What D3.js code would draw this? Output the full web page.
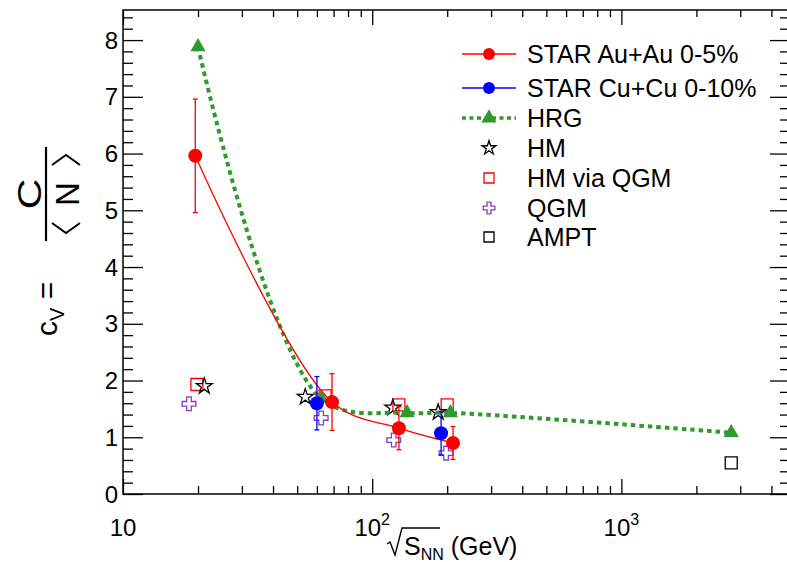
<!DOCTYPE html>
<html>
<head>
<meta charset="utf-8">
<script src="https://cdn.jsdelivr.net/npm/d3@7"></script>
<style>
  body { margin: 0; background: #fff; }
  svg { display: block; }
  text { font-family: "Liberation Sans", Arial, Helvetica, sans-serif; fill: #000; }
</style>
</head>
<body>
<svg id="chart" width="787" height="562"></svg>
<script>
// values
const auEnergy = [19.5, 69, 128, 211];
const auCv = [5.96, 1.62, 1.16, 0.90];
const auErr = [1.0, 0.5, 0.38, 0.29];

const cuEnergy = [60, 189];
const cuCv = [1.60, 1.07];
const cuErr = [0.47, 0.38];

const hrgEnergy = [20, 62.4, 138, 206, 2760];
const hrgCv = [7.88, 1.68, 1.43, 1.43, 1.08];

const hmEnergy = [21.2, 53.9, 121, 184];
const hmCv = [1.90, 1.71, 1.52, 1.44];

const hmQgmEnergy = [19.8, 64.7, 128, 200];
const hmQgmCv = [1.93, 1.73, 1.57, 1.57];

const qgmEnergy = [18.4, 62.4, 122, 198];
const qgmCv = [1.59, 1.34, 0.95, 0.72];

const amptEnergy = [2760];
const amptCv = [0.55];

const xMajor = [10, 100, 1000];
const xMinor = [20, 30, 40, 50, 60, 70, 80, 90, 200, 300, 400, 500, 600, 700, 800, 900, 2000, 3000, 4000];
const yMajor = [0, 1, 2, 3, 4, 5, 6, 7, 8];
const yMinor = d3.range(0, 8.5, 0.2).filter(v => Math.abs(v - Math.round(v)) > 1e-6);

const legendLabels = ["STAR Au+Au 0-5%", "STAR Cu+Cu 0-10%", "HRG", "HM", "HM via QGM", "QGM", "AMPT"];

const RED = "#ff0000", BLUE = "#0000ff", GREEN = "#2f9a2f", PURPLE = "#8040c0";

const margin = { top: 10, right: -3, bottom: 68, left: 123 };
const W = 787, H = 562;

const svg = d3.select("#chart");

const x = d3.scaleLog().domain([10, 4750]).range([margin.left, W - margin.right]);
const y = d3.scaleLinear().domain([0, 8.53]).range([H - margin.bottom, margin.top]);

const x0 = x.range()[0], x1 = x.range()[1], y0 = y.range()[0], y1 = y.range()[1];

// ticks on all four sides, pointing inwards
function ticks(axis, vals, len, transform) {
    svg.append("g")
        .attr("transform", transform)
        .call(axis.tickValues(vals).tickSizeInner(len).tickSizeOuter(0).tickFormat(""))
        .call(g => g.select(".domain").remove())
        .call(g => g.selectAll("line").attr("stroke", "#000").attr("stroke-width", 1.3));
}
ticks(d3.axisBottom(x), xMajor, -15, `translate(0,${y0})`);
ticks(d3.axisBottom(x), xMinor, -8, `translate(0,${y0})`);
ticks(d3.axisTop(x), xMajor, -15, `translate(0,${y1})`);
ticks(d3.axisTop(x), xMinor, -7, `translate(0,${y1})`);
ticks(d3.axisLeft(y), yMajor, -20, `translate(${x0},0)`);
ticks(d3.axisLeft(y), yMinor, -10, `translate(${x0},0)`);
ticks(d3.axisRight(y), yMajor, -20, `translate(${x1},0)`);
ticks(d3.axisRight(y), yMinor, -10, `translate(${x1},0)`);

svg.append("rect")
    .attr("x", x0).attr("y", y1)
    .attr("width", x1 - x0).attr("height", y0 - y1)
    .attr("fill", "none").attr("stroke", "#000").attr("stroke-width", 1.5);

// tick labels
svg.append("g").selectAll("text")
    .data(yMajor)
    .join("text")
    .attr("x", x0 - 5)
    .attr("y", d => y(d) + 8.5)
    .attr("text-anchor", "end")
    .attr("font-size", 24)
    .text(d => d);

const xl = svg.append("g").selectAll("text")
    .data(xMajor)
    .join("text")
    .attr("x", d => x(d))
    .attr("y", 536)
    .attr("text-anchor", "middle")
    .attr("font-size", 24);
xl.append("tspan").text("10");
xl.filter(d => d > 10).append("tspan")
    .attr("dy", -11).attr("font-size", 16)
    .text(d => Math.round(Math.log10(d)));

// x title: sqrt(S_NN) (GeV)
const xt = svg.append("g").attr("transform", "translate(394,555)");
xt.append("path")
    .attr("d", "M-7,-11 L-4,-13 L1,0 L8,-27 L46,-27")
    .attr("fill", "none").attr("stroke", "#000").attr("stroke-width", 1.4);
const xtt = xt.append("text").attr("x", 10).attr("y", 0).attr("font-size", 25);
xtt.append("tspan").text("S");
xtt.append("tspan").attr("dy", 5).attr("font-size", 16).text("NN");
xtt.append("tspan").attr("dy", -5).attr("font-size", 25).text(" (GeV)");

// y title: c_V = C / <N>
const yt = svg.append("g").attr("transform", "translate(57,336) rotate(-90)");
const ytt = yt.append("text").attr("x", 0).attr("y", 0).attr("font-size", 30);
ytt.append("tspan").text("c");
ytt.append("tspan").attr("dy", 7).attr("font-size", 20).text("V");
ytt.append("tspan").attr("dy", -7).attr("font-size", 30).text(" =");
const fc = 142;
yt.append("line")
    .attr("x1", fc - 47).attr("x2", fc + 47)
    .attr("y1", -11).attr("y2", -11)
    .attr("stroke", "#000").attr("stroke-width", 2.2);
yt.append("text").attr("x", fc).attr("y", -16)
    .attr("text-anchor", "middle").attr("font-size", 34)
    .attr("textLength", 31).attr("lengthAdjust", "spacingAndGlyphs")
    .text("C");
yt.append("text").attr("x", fc).attr("y", 22)
    .attr("text-anchor", "middle").attr("font-size", 33).text("N");
yt.append("path")
    .attr("d", `M${fc - 29},-5 L${fc - 39},9 L${fc - 29},23 M${fc + 29},-5 L${fc + 39},9 L${fc + 29},23`)
    .attr("fill", "none").attr("stroke", "#000").attr("stroke-width", 2);

// markers
const sym = {
    star: d3.symbol(d3.symbolStar, 78),
    square: d3.symbol(d3.symbolSquare, 144),
    cross: d3.symbol(d3.symbolCross, 105),
    triangle: d3.symbol(d3.symbolTriangle, 100)
};

function openMarkers(xs, vs, shape, color) {
    svg.append("g").selectAll("path")
        .data(xs.map((e, i) => [e, vs[i]]))
        .join("path")
        .attr("d", sym[shape])
        .attr("transform", d => `translate(${x(d[0])},${y(d[1])})`)
        .attr("fill", "none")
        .attr("stroke", color)
        .attr("stroke-width", 1.3);
}

function errorBars(xs, vs, es, color) {
    const g = svg.append("g").attr("stroke", color).attr("stroke-width", 1.3);
    xs.forEach((e, i) => {
        const cx = x(e), ya = y(vs[i] + es[i]), yb = y(vs[i] - es[i]);
        g.append("line").attr("x1", cx).attr("x2", cx).attr("y1", ya).attr("y2", yb);
        g.append("line").attr("x1", cx - 2.5).attr("x2", cx + 2.5).attr("y1", ya).attr("y2", ya);
        g.append("line").attr("x1", cx - 2.5).attr("x2", cx + 2.5).attr("y1", yb).attr("y2", yb);
    });
}

const line = d3.line().x(d => x(d[0])).y(d => y(d[1])).curve(d3.curveCatmullRom.alpha(0.5));

openMarkers(hmQgmEnergy, hmQgmCv, "square", RED);
openMarkers(qgmEnergy, qgmCv, "cross", PURPLE);
openMarkers(hmEnergy, hmCv, "star", "#000");
openMarkers(amptEnergy, amptCv, "square", "#000");

// HRG
svg.append("path")
    .datum(hrgEnergy.map((e, i) => [e, hrgCv[i]]))
    .attr("d", line)
    .attr("fill", "none")
    .attr("stroke", GREEN)
    .attr("stroke-width", 4)
    .attr("stroke-dasharray", "4.5,4");
svg.append("g").selectAll("path")
    .data(hrgEnergy.map((e, i) => [e, hrgCv[i]]))
    .join("path")
    .attr("d", sym.triangle)
    .attr("transform", d => `translate(${x(d[0])},${y(d[1])})`)
    .attr("fill", GREEN);

// STAR Au+Au
svg.append("path")
    .datum(auEnergy.map((e, i) => [e, auCv[i]]))
    .attr("d", line)
    .attr("fill", "none")
    .attr("stroke", RED)
    .attr("stroke-width", 1.3);
errorBars(auEnergy, auCv, auErr, RED);
svg.append("g").selectAll("circle")
    .data(auEnergy.map((e, i) => [e, auCv[i]]))
    .join("circle")
    .attr("cx", d => x(d[0])).attr("cy", d => y(d[1]))
    .attr("r", 7).attr("fill", RED);

// STAR Cu+Cu
errorBars(cuEnergy, cuCv, cuErr, BLUE);
svg.append("g").selectAll("circle")
    .data(cuEnergy.map((e, i) => [e, cuCv[i]]))
    .join("circle")
    .attr("cx", d => x(d[0])).attr("cy", d => y(d[1]))
    .attr("r", 7).attr("fill", BLUE);

// legend
const legendRows = [54, 88, 118, 148, 178, 208, 237];
const lg = svg.append("g");
legendLabels.forEach((label, i) => {
    const ly = legendRows[i];
    const row = lg.append("g").attr("transform", `translate(0,${ly})`);
    if (i < 2) {
        const c = i === 0 ? RED : BLUE;
        row.append("line").attr("x1", 462).attr("x2", 516).attr("stroke", c).attr("stroke-width", 1.3);
        row.append("circle").attr("cx", 489).attr("r", 6).attr("fill", c);
    } else if (i === 2) {
        row.append("line").attr("x1", 462).attr("x2", 516)
            .attr("stroke", GREEN).attr("stroke-width", 3.5).attr("stroke-dasharray", "4,3.5");
        row.append("path").attr("d", sym.triangle).attr("transform", "translate(489,0)").attr("fill", GREEN);
    } else {
        const shape = ["star", "square", "cross", "square"][i - 3];
        const col = ["#000", RED, PURPLE, "#000"][i - 3];
        const small = d3.symbol(shape === "star" ? d3.symbolStar : shape === "cross" ? d3.symbolCross : d3.symbolSquare,
            shape === "square" ? 100 : shape === "cross" ? 75 : 60);
        row.append("path").attr("d", small).attr("transform", "translate(489,0)")
            .attr("fill", "none").attr("stroke", col).attr("stroke-width", 1.3);
    }
    row.append("text").attr("x", 527).attr("y", 9).attr("font-size", 25).text(label);
});
</script>
</body>
</html>
